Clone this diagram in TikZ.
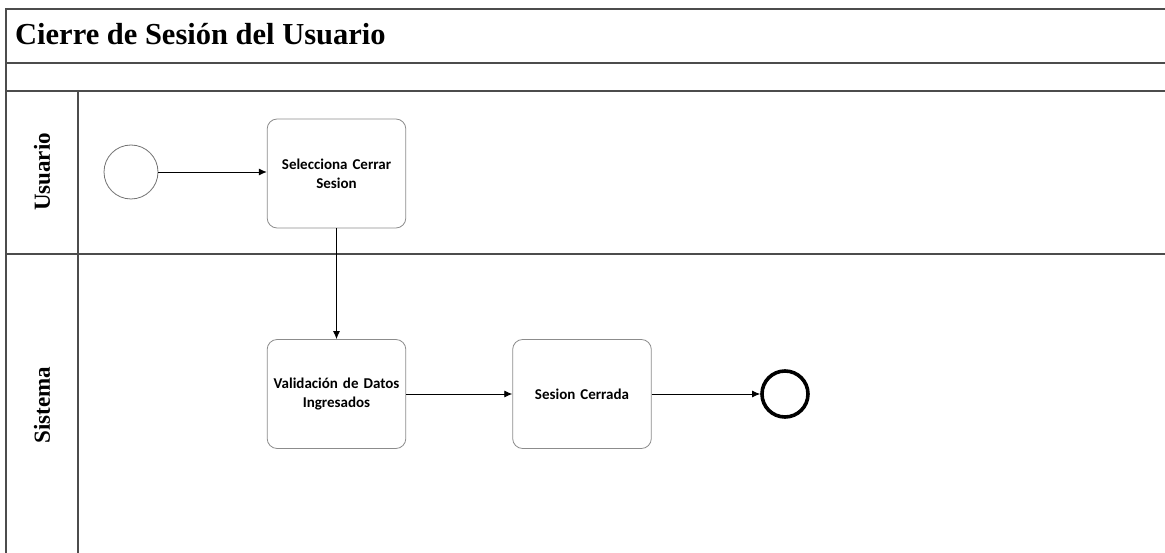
\documentclass[tikz,border=0pt]{standalone}
\usepackage{fontspec}
\setmainfont{Liberation Serif}
\newfontfamily\boxfont{Carlito}
\usetikzlibrary{arrows.meta}
\begin{document}
\begin{tikzpicture}[x=1pt,y=-1pt,
  frame/.style={draw=black!70,line width=1.3pt},
  task/.style={draw=black!45,line width=0.8pt,rounded corners=10pt,
    minimum width=137pt,minimum height=109pt,align=center,
    font=\boxfont\bfseries\fontsize{15}{19}\selectfont,text width=132pt},
  flow/.style={draw=black,line width=0.9pt,-{Latex[length=8pt,width=7pt]}},
  lanelabel/.style={rotate=90,font=\bfseries\fontsize{23}{26}\selectfont}]
\useasboundingbox (0,0) rectangle (1165,553);
\fill[white] (0,0) rectangle (1165,553);

% pool frame and lanes
\draw[frame] (1165,9) -- (6,9) -- (6,560);
\draw[frame] (6,63) -- (1165,63);
\draw[frame] (6,91) -- (1165,91);
\draw[frame] (6,254) -- (1165,254);
\draw[frame] (78,91) -- (78,560);

\node[anchor=base west,font=\bfseries\fontsize{30.5}{34}\selectfont,inner sep=0pt]
  (title) at (15,45) {Cierre de Sesión del Usuario};
\node[lanelabel] (lane1) at (42,172) {Usuario};
\node[lanelabel] (lane2) at (42,405) {Sistema};

% flow elements
\node[circle,draw=black!55,line width=0.8pt,minimum size=54pt,inner sep=0pt] (start) at (131,172) {};
\node[task] (sel) at (336.5,173.5) {Selecciona Cerrar\\Sesion};
\node[task] (val) at (336.5,394) {Validación de Datos\\Ingresados};
\node[task] (ses) at (582,394) {Sesion Cerrada};
\node[circle,draw=black,line width=3.6pt,minimum size=46pt,inner sep=0pt] (end) at (785,394) {};

\draw[flow] (start.east) -- (start.east -| sel.west);
\draw[flow] (sel) -- (val);
\draw[flow] (val) -- (ses);
\draw[flow] (ses) -- (end);
\end{tikzpicture}
\end{document}
